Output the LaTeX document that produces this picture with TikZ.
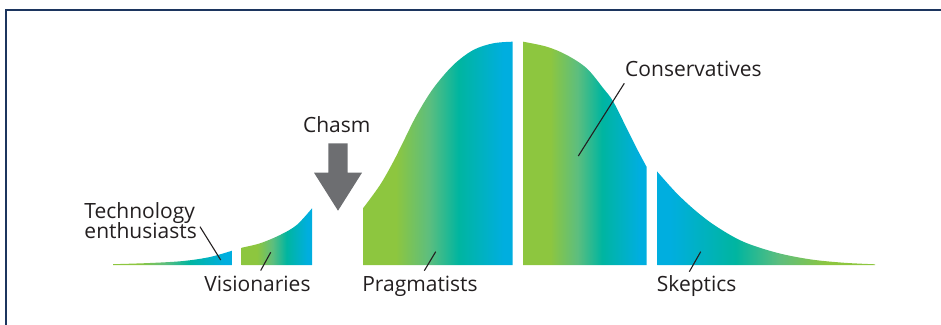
\documentclass[tikz,border=0pt]{standalone}
\usepackage{fontspec}
\setmainfont{Open Sans}
\definecolor{cg}{HTML}{8DC63F}
\definecolor{cm}{HTML}{5DBE7E}
\definecolor{ct}{HTML}{00B5A0}
\definecolor{cb}{HTML}{00AEDF}
\definecolor{navy}{HTML}{1C355E}
\definecolor{ink}{HTML}{231F20}
\definecolor{arrowgrey}{HTML}{6D6E71}
\pgfdeclarehorizontalshading{gtb}{100bp}{color(0bp)=(cg); color(25bp)=(cg); color(36bp)=(cg); color(47bp)=(cm); color(57bp)=(ct); color(72bp)=(cb); color(100bp)=(cb)}
\pgfdeclarehorizontalshading{btg}{100bp}{color(0bp)=(cb); color(28bp)=(cb); color(43bp)=(ct); color(53bp)=(cm); color(64bp)=(cg); color(75bp)=(cg); color(100bp)=(cg)}
\tikzset{
  lbl/.style={font=\fontsize{21bp}{24bp}\selectfont, text=ink, inner sep=0pt},
  leader/.style={draw=ink, line width=1.1bp},
  crv/.style={smooth, tension=0.55}
}
\begin{document}
\begin{tikzpicture}[x=1bp, y=-1bp]
\useasboundingbox (0,0) rectangle (941,324);
% frame
\draw[navy, line width=2.4bp, line join=miter] (5.8,340) -- (5.8,10.2) -- (960,10.2);
% curve segments
\shade[shading=gtb] (113,265) -- plot[crv] coordinates {(113,264.2) (150,263) (183.3,261) (210,257) (232,250.7)} -- (232,265) -- cycle;
\shade[shading=gtb] (241.5,265) -- plot[crv] coordinates {(241.5,247.7) (260,243.3) (280,235) (296.7,225) (312,208.3)} -- (312,265) -- cycle;
\shade[shading=gtb] (363,265) -- plot[crv] coordinates {(363,208.3) (380,185) (393.3,161.7) (403.3,141.7) (416.7,115) (433.3,88.3) (453.3,65) (473.3,50) (493.3,43.3) (512.5,41.7)} -- (512.5,265) -- cycle;
\shade[shading=gtb] (523,265) -- plot[crv] coordinates {(523,41.7) (546.7,46.7) (566.7,55) (586.7,68.3) (603.3,88.3) (613.3,101.7) (626.7,128.3) (636.7,148.3) (646.5,166.7)} -- (646.5,265) -- cycle;
\shade[shading=btg] (657.3,265) -- plot[crv] coordinates {(657.3,171.7) (676.7,193.3) (696.7,211.7) (716.7,226.7) (743.3,241.7) (776.7,252.7) (810,259.3) (843.3,262.7) (875,264.3)} -- (875,265) -- cycle;
% chasm arrow
\fill[arrowgrey] (328.3,143.3) -- (347.7,143.3) -- (347.7,172.7) -- (362,172.7) -- (338,210.7) -- (314,172.7) -- (328.3,172.7) -- cycle;
% labels
\node[lbl, anchor=base west] (tech1) at (84.3,218) {Technology};
\node[lbl, anchor=base west] (tech2) at (84.3,238) {enthusiasts};
\node[lbl, anchor=base] (vis) at (257.5,291) {Visionaries};
\node[lbl, anchor=base] (chasm) at (336.7,132.7) {Chasm};
\node[lbl, anchor=base] (prag) at (420,291) {Pragmatists};
\node[lbl, anchor=base west] (cons) at (625,76.7) {Conservatives};
\node[lbl, anchor=base west] (skep) at (656.7,291.7) {Skeptics};
% leader lines
\coordinate (techA) at (200,226.7);
\coordinate (techB) at (220.7,260);
\coordinate (visA) at (260.7,270.5);
\coordinate (visB) at (270.7,252.3);
\coordinate (pragA) at (424.3,270.7);
\coordinate (pragB) at (435.7,251.7);
\coordinate (consA) at (624.3,83.3);
\coordinate (consB) at (578.3,156);
\coordinate (skepA) at (689.3,271.7);
\coordinate (skepB) at (700.7,251.7);
\draw[leader] (techA) -- (techB);
\draw[leader] (visA) -- (visB);
\draw[leader] (pragA) -- (pragB);
\draw[leader] (consA) -- (consB);
\draw[leader] (skepA) -- (skepB);
\end{tikzpicture}
\end{document}
